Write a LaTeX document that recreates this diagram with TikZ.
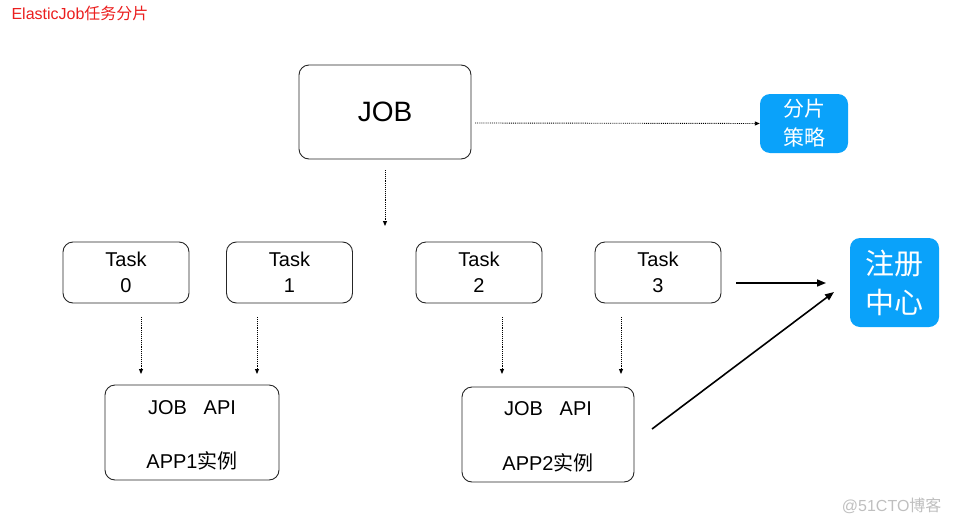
\documentclass[tikz,border=0pt]{standalone}
\usepackage{fontspec}
\setmainfont{Liberation Sans}
\newfontfamily\cjk{Noto Sans CJK SC}
\usetikzlibrary{arrows.meta}
\definecolor{boxblue}{RGB}{10,162,250}
\definecolor{titlered}{RGB}{235,30,30}
\tikzset{
  rbox/.style={draw=black!85, line width=0.9pt, rounded corners=10pt, align=center, inner sep=0pt},
  bluebox/.style={fill=boxblue, draw=none, rounded corners=10pt, text=white, align=center, inner sep=0pt},
  dotarrow/.style={densely dotted, line width=0.9pt, -{Triangle[length=5pt,width=4pt]}},
  solidarrow/.style={line width=1.6pt, -{Triangle[length=9pt,width=7pt]}},
}
\begin{document}
\begin{tikzpicture}[x=1pt,y=-1pt]
\useasboundingbox (0,0) rectangle (953,525);
\node[anchor=west, text=titlered, font=\fontsize{16}{18}\selectfont] (title) at (8,13) {ElasticJob{\cjk 任务分片}};
% JOB
\node[rbox, minimum width=172pt, minimum height=94pt, font=\fontsize{28}{30}\selectfont] (job) at (385,112) {JOB};
\node[bluebox, minimum width=88pt, minimum height=59pt, font=\cjk\fontsize{21}{29}\selectfont] (strategy) at (804,123.5) {分片\\策略};
% tasks
\foreach \n/\x in {0/126,1/289.5,2/479,3/658}{
  \node[rbox, minimum width=126pt, minimum height=61pt, font=\fontsize{20}{26}\selectfont] (t\n) at (\x,272.5) {Task\\\n};
}
\node[bluebox, minimum width=89pt, minimum height=89pt, font=\cjk\fontsize{29}{39}\selectfont] (reg) at (894.5,282.5) {注册\\中心};
% apps
\node[rbox, minimum width=174pt, minimum height=95pt] (app1) at (192,432.5) {};
\node[font=\fontsize{20}{22}\selectfont] (app1a) at (192,408) {JOB\ \ \ API};
\node[font=\fontsize{20}{22}\selectfont] (app1b) at (192,461) {APP1{\cjk 实例}};
\node[rbox, minimum width=172pt, minimum height=95pt] (app2) at (548,434.5) {};
\node[font=\fontsize{20}{22}\selectfont] (app2a) at (548,409) {JOB\ \ \ API};
\node[font=\fontsize{20}{22}\selectfont] (app2b) at (548,463) {APP2{\cjk 实例}};
% watermark
\node[anchor=east, text=black!25, font=\fontsize{16}{18}\selectfont] (wm) at (945,506) {@51CTO{\cjk 博客}};
% coordinates
\coordinate (jobS) at (385,170);
\coordinate (jobSend) at (385,226);
\coordinate (jobE) at (475,123);
\foreach \n/\x in {0/141,1/257,2/502,3/621}{
  \coordinate (ts\n) at (\x,317);
  \coordinate (te\n) at (\x,374);
  \draw[dotarrow] (ts\n) -- (te\n);
}
\draw[dotarrow] (jobS) -- (jobSend);
\draw[dotarrow] (jobE) -- (strategy.west);
\coordinate (a3) at (736,283);
\coordinate (r3) at (826,283);
\draw[solidarrow] (a3) -- (r3);
\coordinate (a2) at (652,429);
\coordinate (r2) at (834,292);
\draw[solidarrow] (a2) -- (r2);
\end{tikzpicture}
\end{document}
